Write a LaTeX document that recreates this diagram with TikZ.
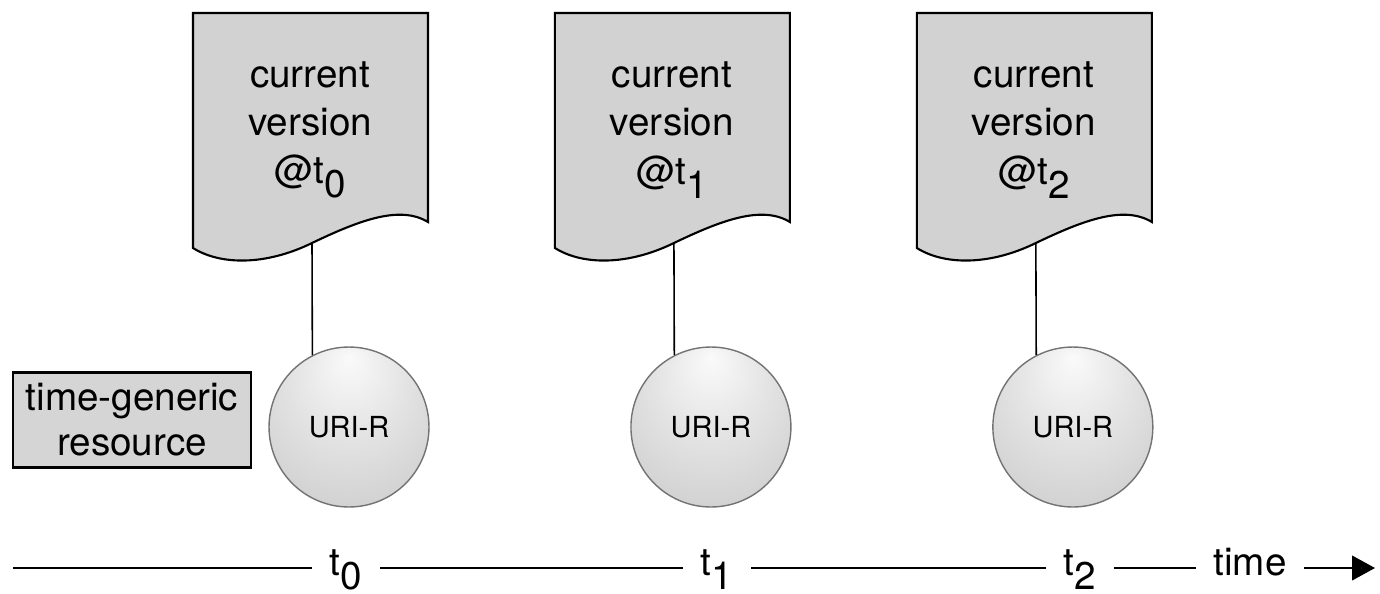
\documentclass[tikz,border=0pt]{standalone}
\usepackage{fontspec}
\setmainfont{TeX Gyre Heros}
\usetikzlibrary{arrows.meta}

\pgfdeclareradialshading{sphere}{\pgfpoint{0bp}{22bp}}{%
  color(0bp)=(white!96!gray); color(18bp)=(gray!22); color(40bp)=(gray!42); color(50bp)=(gray!55)}
\newcommand{\tsub}[1]{t\raisebox{-8pt}{#1}}

\begin{document}
\begin{tikzpicture}[x=0.02cm, y=-0.02cm,
	doc/.style={fill=gray!35, draw=black, line width=1.2pt},
	doctext/.style={align=center, font=\fontsize{22}{27.5}\selectfont},
	uri/.style={circle, draw=gray!90!black, line width=0.8pt, shading=sphere, minimum size=3.2cm, inner sep=0pt, font=\fontsize{16.5}{20}\selectfont},
	timelabel/.style={inner xsep=10pt, inner ysep=0pt, text height=17pt, text depth=9pt, font=\fontsize{22}{26}\selectfont}]
	\useasboundingbox (0,0) rectangle (1380,593);

	% Versions at t0, t1 and t2
	\begin{scope}[xshift=0cm]
		\draw[doc] (193,13) -- (428,13) -- (428,222) .. controls (400,205) and (360,220) .. (312,243) .. controls (265,266) and (220,265) .. (193,248) -- cycle;
		\node[doctext] (doc0) at (310,130) {current\\version\\@\tsub{0}};
		\coordinate (w0) at (312,243);
		\node[uri] (uri0) at (349,427) {URI-R};
		\draw[line width=0.9pt] (w0) -- (uri0.117);
	\end{scope}

	\begin{scope}[xshift=7.24cm]
		\draw[doc] (193,13) -- (428,13) -- (428,222) .. controls (400,205) and (360,220) .. (312,243) .. controls (265,266) and (220,265) .. (193,248) -- cycle;
		\node[doctext] (doc1) at (310,130) {current\\version\\@\tsub{1}};
		\coordinate (w1) at (312,243);
		\node[uri] (uri1) at (349,427) {URI-R};
		\draw[line width=0.9pt] (w1) -- (uri1.117);
	\end{scope}

	\begin{scope}[xshift=14.48cm]
		\draw[doc] (193,13) -- (428,13) -- (428,222) .. controls (400,205) and (360,220) .. (312,243) .. controls (265,266) and (220,265) .. (193,248) -- cycle;
		\node[doctext] (doc2) at (310,130) {current\\version\\@\tsub{2}};
		\coordinate (w2) at (312,243);
		\node[uri] (uri2) at (349,427) {URI-R};
		\draw[line width=0.9pt] (w2) -- (uri2.117);
	\end{scope}

	% Legend box
	\node[draw, line width=1.2pt, fill=gray!33, minimum width=4.76cm, minimum height=1.9cm, inner sep=0pt, align=center, font=\fontsize{22}{25.5}\selectfont] (generic) at (132,420) {time-generic\\resource};

	% Time axis
	\coordinate (tstart) at (13,568);
	\coordinate (tend) at (1375,568);
	\node[timelabel] (tl0) at (346,568) {\tsub{0}};
	\node[timelabel] (tl1) at (717,568) {\tsub{1}};
	\node[timelabel] (tl2) at (1080,568) {\tsub{2}};
	\node[timelabel] (time) at (1250,568) {time};
	\draw[line width=1pt] (tstart) -- (tl0);
	\draw[line width=1pt] (tl0) -- (tl1);
	\draw[line width=1pt] (tl1) -- (tl2);
	\draw[line width=1pt] (tl2) -- (time);
	\draw[line width=1pt, -{Triangle[length=13pt,width=14pt]}] (time) -- (tend);
\end{tikzpicture}
\end{document}
